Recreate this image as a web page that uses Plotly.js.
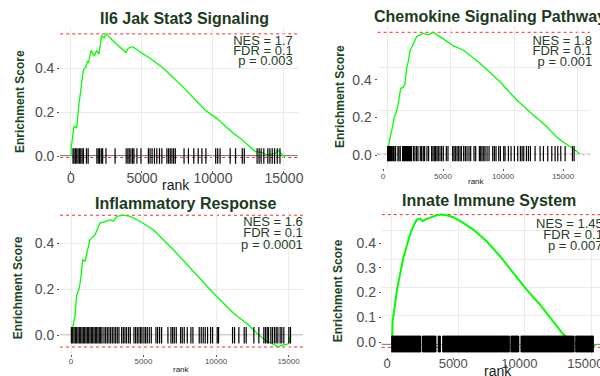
<!DOCTYPE html>
<html><head><meta charset="utf-8">
<script src="https://cdn.plot.ly/plotly-3.0.1.min.js"></script>
<style>html,body{margin:0;padding:0;background:#fff}#chart{width:600px;height:376px}</style>
</head><body><div id="chart"></div>
<script>
// ---------- data ----------
const titles = ["Il6 Jak Stat3 Signaling", "Chemokine Signaling Pathway", "Inflammatory Response", "Innate Immune System"];
const statLabels = [
  ["NES = 1.7", "FDR = 0.1", "p = 0.003"],
  ["NES = 1.8", "FDR = 0.1", "p = 0.001"],
  ["NES = 1.6", "FDR = 0.1", "p = 0.0001"],
  ["NES = 1.45", "FDR = 0.1", "p = 0.007"]
];
const xTicks = [0, 5000, 10000, 15000];
const yTicksA = [0, 0.2, 0.4];
const yTicksB = [0, 0.1, 0.2, 0.3, 0.4];

const p1Rank = [0, 24, 211, 400, 540, 634, 775, 869, 1056, 1150, 1237, 1408, 1643, 1808, 1972, 2160, 2324, 2465, 3099, 3873, 4038, 4343, 4859, 5563, 6502, 7911, 9437, 10258, 11432, 12019, 12980, 13450, 13800, 14160, 14390, 14580, 15050];
const p1ES = [0, 0.042, 0.136, 0.126, 0.224, 0.277, 0.338, 0.391, 0.406, 0.429, 0.424, 0.479, 0.455, 0.48, 0.463, 0.55, 0.535, 0.555, 0.515, 0.47, 0.49, 0.497, 0.474, 0.444, 0.399, 0.312, 0.209, 0.171, 0.103, 0.076, 0.02, 0.015, 0.005, 0.009, 0.012, 0.027, -0.007];
const p1Hits = [142, 213, 308, 403, 498, 593, 687, 782, 877, 1090, 1209, 1825, 1919, 2014, 2133, 2228, 2465, 3105, 3887, 4005, 4100, 4219, 4337, 4432, 4645, 4929, 5450, 5569, 5711, 5877, 6043, 6233, 6399, 6755, 6873, 6992, 7110, 7229, 7347, 7963, 8271, 8650, 8959, 9219, 9503, 10191, 10333, 10499, 11210, 11589, 12063, 12206, 13107, 13249, 13391, 13580, 13865, 14007, 14173, 14339, 14528, 14718];

const p2Rank = [0, 80, 210, 420, 550, 690, 820, 950, 1060, 1260, 1390, 1530, 1650, 1790, 2000, 2180, 2310, 2570, 2830, 3230, 3620, 4150, 4680, 5200, 5980, 7300, 8870, 10190, 11500, 12550, 13340, 13860, 14520, 15170];
const p2ES = [0, 0.031, 0.07, 0.124, 0.17, 0.186, 0.217, 0.263, 0.302, 0.306, 0.32, 0.398, 0.425, 0.475, 0.502, 0.522, 0.541, 0.549, 0.556, 0.549, 0.561, 0.541, 0.518, 0.498, 0.479, 0.418, 0.332, 0.248, 0.178, 0.125, 0.076, 0.052, 0.027, -0.002];
const p2Hits = [26, 105, 184, 263, 342, 394, 499, 604, 657, 841, 919, 1024, 1208, 1287, 1366, 1445, 1524, 1602, 1681, 1760, 1839, 1918, 2075, 2180, 2312, 2417, 2601, 2706, 2837, 2942, 3126, 3258, 3494, 3599, 3704, 3809, 3914, 4019, 4151, 4282, 4413, 4650, 4781, 5149, 5254, 5359, 5490, 5595, 5727, 5832, 6016, 6147, 6278, 6436, 6568, 6830, 6962, 7251, 7356, 7461, 7592, 7697, 7855, 8012, 8301, 8433, 8564, 8774, 8906, 9168, 9273, 9536, 9746, 10009, 10271, 10481, 10613, 10744, 10954, 11112, 11270, 11637, 12032, 12294, 12636, 12951, 13213, 13423, 13660, 14002, 14580, 14711];

const p3Rank = [0, 48, 117, 276, 393, 572, 690, 807, 966, 1124, 1310, 1655, 2000, 2462, 2690, 2917, 3152, 3607, 4069, 4759, 5676, 7055, 8434, 9814, 11193, 12228, 12917, 13497, 13952, 14300, 14531, 14828, 15000, 15150];
const p3ES = [0, 0.003, 0.032, 0.09, 0.176, 0.206, 0.256, 0.329, 0.322, 0.372, 0.416, 0.437, 0.488, 0.496, 0.503, 0.496, 0.517, 0.522, 0.517, 0.496, 0.459, 0.372, 0.278, 0.184, 0.097, 0.046, 0.003, -0.026, -0.038, -0.051, -0.043, -0.041, -0.036, 0.003];
const p3Hits = [23, 115, 207, 299, 390, 482, 574, 666, 758, 850, 942, 1034, 1126, 1217, 1309, 1401, 1493, 1585, 1677, 1769, 1861, 1952, 2044, 2136, 2274, 2389, 2504, 2619, 2733, 2848, 2963, 3078, 3193, 3308, 3491, 3606, 3721, 3836, 3974, 4089, 4341, 4456, 4571, 4686, 4801, 4893, 5031, 5146, 5260, 5398, 5536, 5857, 5972, 6110, 6248, 6684, 6891, 7006, 7121, 7259, 7557, 7672, 7810, 8017, 8269, 8407, 8843, 8981, 9119, 9257, 9418, 9625, 9763, 10084, 10176, 11141, 11279, 11577, 11945, 12083, 12611, 12955, 13300, 13415, 13530, 13621, 13782, 13897, 14035, 14150, 14265, 14425, 14540, 14678, 15022, 15137];

const p4Rank = [0, 50, 226, 400, 602, 852, 1103, 1353, 1604, 1855, 2105, 2306, 2607, 2983, 3358, 3734, 4110, 4611, 5363, 6115, 7118, 8120, 9122, 10125, 11128, 12130, 12860, 13400, 13885, 14386, 14887, 15300];
const p4ES = [0, 0.08, 0.139, 0.198, 0.245, 0.304, 0.345, 0.386, 0.416, 0.439, 0.443, 0.434, 0.442, 0.448, 0.455, 0.457, 0.455, 0.448, 0.428, 0.404, 0.363, 0.31, 0.251, 0.192, 0.139, 0.08, 0.035, 0.012, -0.002, -0.004, -0.012, -0.004];
const p4Hits = [20, 97, 168, 262, 338, 431, 508, 603, 679, 772, 849, 941, 1018, 1113, 1188, 1282, 1359, 1452, 1528, 1621, 1702, 1788, 1871, 1962, 2039, 2118, 2332, 2409, 2502, 2578, 2671, 2748, 2842, 2919, 3012, 3088, 3181, 3262, 3521, 3598, 3852, 3929, 4021, 4098, 4192, 4268, 4361, 4442, 4531, 4608, 4702, 4779, 4871, 4948, 5042, 5118, 5212, 5289, 5381, 5458, 5552, 5629, 5721, 5798, 5892, 5969, 6062, 6139, 6232, 6311, 6402, 6478, 6571, 6648, 6742, 6819, 6912, 6988, 7082, 7159, 7252, 7328, 7421, 7499, 7592, 7668, 7762, 7838, 7931, 8009, 8102, 8178, 8272, 8349, 8442, 8518, 8612, 8688, 8781, 8982, 9058, 9152, 9229, 9322, 9398, 9491, 9742, 9818, 9912, 9989, 10082, 10158, 10252, 10328, 10421, 10499, 10592, 10668, 10762, 10838, 10931, 11009, 11102, 11178, 11272, 11349, 11442, 11518, 11612, 11688, 11781, 11858, 11952, 12029, 12122, 12198, 12292, 12368, 12461, 12538, 12632, 12708, 12802, 12878, 12971, 13048, 13142, 13218, 13312, 13388, 13481, 13558, 13652, 13852, 13928, 14022, 14098, 14192, 14268, 14362, 14438, 14532, 14608, 14702, 14778, 14871, 14948, 15042, 15098];

// ---------- helpers ----------
const FONT = "Liberation Sans, Arial, sans-serif";
const GRAY = "#4D4D4D";
const TITLEC = "#1C3A1C";
const AXTC = "#1B451B";
const STATC = "#263D26";
const X = px => px / 600;
const Y = py => 1 - py / 376;

function rug(hits, es, xa, ya, w, col) {
  const h = (Math.max(...es) - Math.min(...es)) / 16;
  const xs = [], ys = [];
  hits.forEach(r => { xs.push(r, r, null); ys.push(-h, h, null); });
  return {x: xs, y: ys, xaxis: xa, yaxis: ya, mode: 'lines', type: 'scatter',
          line: {color: col, width: w}, hoverinfo: 'skip', showlegend: false};
}
function curve(r, es, xa, ya, w) {
  return {x: r, y: es, xaxis: xa, yaxis: ya, mode: 'lines', type: 'scatter',
          line: {color: '#00FF00', width: w}, hoverinfo: 'skip', showlegend: false};
}
function stats(lines, xs, ys, pos, xa, ya, clip) {
  return {x: xs, y: ys, text: lines, xaxis: xa, yaxis: ya, mode: 'text', type: 'scatter',
          textposition: pos, textfont: {family: FONT, size: 13, color: STATC},
          cliponaxis: clip, hoverinfo: 'skip', showlegend: false};
}
function hlines(es, xa, ya) {
  const mx = Math.max(...es), mn = Math.min(...es);
  const xd = xa + ' domain';
  return [
    {type: 'line', xref: xd, yref: ya, x0: 0, x1: 1, y0: mx, y1: mx, layer: 'below', line: {color: 'rgba(255,0,0,0.85)', width: 1, dash: '3px,3px'}},
    {type: 'line', xref: xd, yref: ya, x0: 0, x1: 1, y0: mn, y1: mn, layer: 'below', line: {color: 'rgba(255,0,0,0.85)', width: 1, dash: '3px,3px'}},
    {type: 'line', xref: xd, yref: ya, x0: 0, x1: 1, y0: 0, y1: 0, layer: 'below', line: {color: '#000', width: 1}}
  ];
}

const data = [
  curve(p1Rank, p1ES, 'x', 'y', 1.3), rug(p1Hits, p1ES, 'x', 'y', 1.2, '#000'),
  stats(statLabels[0], [15620, 15620, 15620], [0.518, 0.473, 0.427], 'middle left', 'x', 'y', false),
  curve(p2Rank, p2ES, 'x2', 'y2', 1.3), rug(p2Hits, p2ES, 'x2', 'y2', 1.2, '#000'),
  stats(statLabels[1], [11425, 11433, 11835], [0.518, 0.471, 0.422], 'middle right', 'x2', 'y2', false),
  curve(p3Rank, p3ES, 'x3', 'y3', 1.3), rug(p3Hits, p3ES, 'x3', 'y3', 1.2, '#000'),
  stats(statLabels[2], [15990, 15990, 15990], [0.488, 0.440, 0.390], 'middle left', 'x3', 'y3', true),
  curve(p4Rank, p4ES, 'x4', 'y4', 2), rug(p4Hits, p4ES, 'x4', 'y4', 2.2, '#000'),
  stats(statLabels[3], [10827, 11376, 11729], [0.4216, 0.384, 0.342], 'middle right', 'x4', 'y4', false),
  // invisible anchors so the label-only overlay axes are drawn
  {x: [xTicks[0]], y: [yTicksA[0]], xaxis: 'x5', yaxis: 'y5', mode: 'markers', marker: {opacity: 0}, hoverinfo: 'skip', showlegend: false},
  {x: [xTicks[0]], y: [yTicksB[0]], xaxis: 'x6', yaxis: 'y6', mode: 'markers', marker: {opacity: 0}, hoverinfo: 'skip', showlegend: false}
];

const grid = {showgrid: true, gridcolor: '#EBEBEB', gridwidth: 1, zeroline: false, showline: false, fixedrange: true};
const tickSt = {ticks: 'outside', ticklen: 2, tickwidth: 1, tickcolor: '#555', ticklabeloverflow: 'allow'};
function xax(dom, rng, size, anchor, extra) {
  return Object.assign({}, grid, tickSt, {domain: dom, range: rng, anchor: anchor, tickvals: xTicks, tickformat: 'd',
    tickfont: {family: FONT, size: size, color: GRAY}}, extra || {});
}
function yax(dom, rng, vals, anchor, extra) {
  return Object.assign({}, grid, tickSt, {domain: dom, range: rng, anchor: anchor, tickvals: vals, tickformat: '.1f',
    tickfont: {family: FONT, size: 14, color: GRAY}}, extra || {});
}
const hideLabels = {showticklabels: false, ticks: ''};

const layout = {
  width: 600, height: 376, margin: {l: 0, r: 0, t: 0, b: 0},
  paper_bgcolor: '#fff', plot_bgcolor: '#fff', showlegend: false,
  font: {family: FONT},
  xaxis: xax([X(60.2), X(297.6)], [-760, 15960], 14, 'y', {ticklabelstandoff: -7}),
  yaxis: yax([Y(170.3), Y(27.3)], [-0.065, 0.585], yTicksA, 'x'),
  xaxis2: xax([X(377.6), X(590)], [-760, 15960], 8, 'y2', hideLabels),
  yaxis2: yax([Y(168), Y(25.6)], [-0.067, 0.592], yTicksA, 'x2', hideLabels),
  xaxis5: xax(undefined, [-450, 17250], 8, 'y5', {overlaying: 'x2', showgrid: false, ticklabelstandoff: -2}),
  yaxis5: yax(undefined, [-0.0693, 0.690], yTicksA, 'x5', {overlaying: 'y2', showgrid: false}),
  xaxis3: xax([X(60), X(303)], [-760, 16000], 8, 'y3', {ticklabelstandoff: -2}),
  yaxis3: yax([Y(353.7), Y(208.1)], [-0.08, 0.553], yTicksA, 'x3'),
  xaxis4: xax([X(381.8), 1], [-765, 15639], 13, 'y4', hideLabels),
  yaxis4: yax([Y(356.7), Y(206.7)], [-0.045, 0.485], yTicksB, 'x4', hideLabels),
  xaxis6: xax(undefined, [-393, 16100], 13, 'y6', {overlaying: 'x4', showgrid: false, ticklabelstandoff: -7}),
  yaxis6: yax(undefined, [-0.0594, 0.5467], yTicksB, 'x6', {overlaying: 'y4', showgrid: false}),
  shapes: [].concat(hlines(p1ES, 'x', 'y'), hlines(p2ES, 'x2', 'y2'), hlines(p3ES, 'x3', 'y3'), hlines(p4ES, 'x4', 'y4')),
  annotations: []
};
['xaxis5', 'yaxis5', 'xaxis6', 'yaxis6'].forEach(k => { delete layout[k].domain; });

function ann(text, px, py, size, color, bold, opts) {
  return Object.assign({text: text, xref: 'paper', yref: 'paper', x: X(px), y: Y(py), xanchor: 'center', yanchor: 'middle',
    showarrow: false, font: {family: FONT, size: size, color: color, weight: bold ? 'bold' : 'normal'}}, opts || {});
}
layout.annotations.push(
  ann(titles[0], 184, 18.3, 16, TITLEC, true),
  ann(titles[1], 372, 16.7, 16, TITLEC, true, {xanchor: 'left'}),
  ann(titles[2], 185, 203, 16, TITLEC, true),
  ann(titles[3], 489, 200.7, 16, TITLEC, true),
  ann('Enrichment Score', 20, 102, 12, AXTC, true, {textangle: -90}),
  ann('Enrichment Score', 339.3, 96.7, 12, AXTC, true, {textangle: -90}),
  ann('Enrichment Score', 18.3, 288, 12, AXTC, true, {textangle: -90}),
  ann('Enrichment Score', 338.3, 291, 12, AXTC, true, {textangle: -90}),
  ann('rank', 175.7, 185, 14, '#1a1a1a', false),
  ann('rank', 476.7, 181.7, 8, '#1a1a1a', false),
  ann('rank', 181.7, 369.7, 8, '#1a1a1a', false),
  ann('rank', 498, 370.7, 14, '#1a1a1a', false)
);

Plotly.newPlot('chart', data, layout, {displayModeBar: false, staticPlot: true});
</script></body></html>
